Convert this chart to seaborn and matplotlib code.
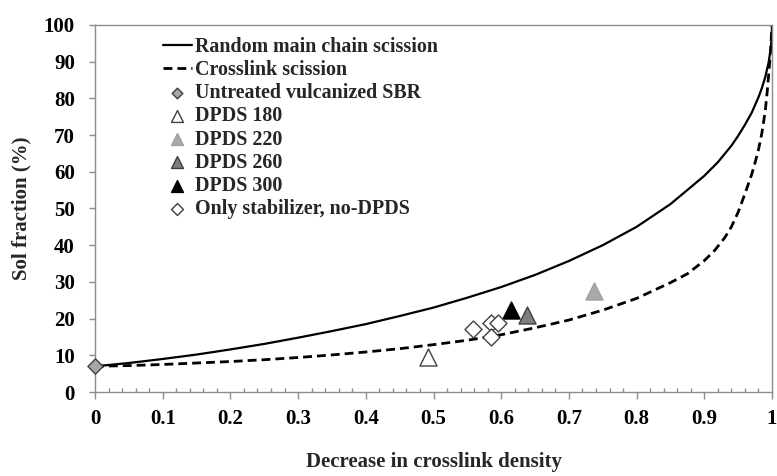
import matplotlib
matplotlib.use("Agg")
import matplotlib.pyplot as plt
import seaborn as sns
import pandas as pd
from matplotlib.ticker import MultipleLocator, FixedLocator

# ---- data ----
random_x = [0.0, 0.05, 0.1, 0.15, 0.2, 0.25, 0.3, 0.35, 0.4, 0.45, 0.5, 0.55, 0.6,
            0.65, 0.7, 0.75, 0.8, 0.85, 0.9, 0.92, 0.94, 0.95, 0.96, 0.97, 0.98, 0.985,
            0.99, 0.995, 0.998, 0.9995, 1.0]
random_y = [7.0, 7.9, 9.0, 10.2, 11.6, 13.1, 14.8, 16.6, 18.5, 20.7, 23.0, 25.7, 28.6,
            31.9, 35.7, 40.0, 45.0, 51.2, 58.9, 62.6, 67.1, 69.8, 72.8, 76.1, 80.3, 82.8,
            85.8, 89.8, 93.4, 96.5, 100.0]

crosslink_x = [0.0, 0.05, 0.1, 0.15, 0.2, 0.25, 0.3, 0.35, 0.4, 0.45, 0.5, 0.55, 0.6,
               0.65, 0.7, 0.75, 0.8, 0.85, 0.875, 0.9, 0.915, 0.93, 0.94, 0.95, 0.96,
               0.97, 0.975, 0.98, 0.985, 0.99, 0.993, 0.996, 0.998, 1.0]
crosslink_y = [7.0, 7.2, 7.5, 7.9, 8.3, 8.8, 9.4, 10.1, 10.9, 11.8, 12.9, 14.1, 15.6,
               17.5, 19.6, 22.3, 25.5, 29.8, 32.2, 35.8, 38.5, 42.0, 45.0, 49.0, 54.0,
               59.3, 62.5, 66.0, 70.5, 76.5, 82.0, 88.5, 93.5, 100.0]

untreated_x = [0.0]
untreated_y = [7.0]
dpds180_x = [0.492]
dpds180_y = [9.6]
dpds220_x = [0.737]
dpds220_y = [27.6]
dpds260_x = [0.638]
dpds260_y = [21.0]
dpds300_x = [0.614]
dpds300_y = [22.3]
stabilizer_x = [0.558, 0.585, 0.595, 0.585]
stabilizer_y = [17.3, 18.7, 18.9, 15.1]

x_ticks = [0, 0.1, 0.2, 0.3, 0.4, 0.5, 0.6, 0.7, 0.8, 0.9, 1]
x_tick_labels = ["0", "0.1", "0.2", "0.3", "0.4", "0.5", "0.6", "0.7", "0.8", "0.9", "1"]
y_ticks = [0, 10, 20, 30, 40, 50, 60, 70, 80, 90, 100]

# ---- style ----
sns.set_theme(style="white")
plt.rcParams["font.family"] = ["Liberation Serif", "DejaVu Serif"]
plt.rcParams["font.weight"] = "bold"

fig = plt.figure(figsize=(7.77, 4.76), dpi=100)
ax = fig.add_axes([95 / 777, 1 - 392 / 476, 677 / 777, 367 / 476])

curves = pd.concat([
    pd.DataFrame({"x": random_x, "y": random_y, "model": "Random main chain scission"}),
    pd.DataFrame({"x": crosslink_x, "y": crosslink_y, "model": "Crosslink scission"}),
])
sns.lineplot(data=curves[curves.model == "Random main chain scission"], x="x", y="y",
             color="black", lw=1.6, ax=ax, label="Random main chain scission",
             sort=False, estimator=None)
sns.lineplot(data=curves[curves.model == "Crosslink scission"], x="x", y="y",
             color="black", lw=2.0, ax=ax, label="Crosslink scission",
             sort=False, estimator=None)
ax.lines[1].set_dashes((3.2, 1.8))

edge = "#404040"
groups = [
    ("Untreated vulcanized SBR", untreated_x, untreated_y, "D", "#a6a6a6", edge, 60),
    ("DPDS 180", dpds180_x, dpds180_y, "^", "white", edge, 150),
    ("DPDS 220", dpds220_x, dpds220_y, "^", "#a9a9a9", "#a0a0a0", 150),
    ("DPDS 260", dpds260_x, dpds260_y, "^", "#7f7f7f", edge, 150),
    ("DPDS 300", dpds300_x, dpds300_y, "^", "black", "black", 150),
    ("Only stabilizer, no-DPDS", stabilizer_x, stabilizer_y, "D", "white", edge, 75),
]
for name, gx, gy, mk, fc, ec, s in groups:
    sns.scatterplot(x=gx, y=gy, marker=mk, color=fc, edgecolor=ec, linewidth=1.0,
                    s=s, ax=ax, label=name, zorder=5, clip_on=False)

ax.set_xlim(0, 1)
ax.set_ylim(0, 100)
ax.xaxis.set_major_locator(FixedLocator(x_ticks))
ax.set_xticklabels(x_tick_labels)
ax.xaxis.set_minor_locator(MultipleLocator(0.02))
ax.yaxis.set_major_locator(FixedLocator(y_ticks))

frame_col = "#8c8c8c"
for sp in ax.spines.values():
    sp.set_color(frame_col)
    sp.set_linewidth(1.0)
ax.tick_params(axis="x", which="major", direction="out", length=5, width=1,
               color=frame_col, pad=7, labelsize=15, labelcolor="black", bottom=True)
ax.tick_params(axis="x", which="minor", direction="in", length=3, width=1,
               color=frame_col, bottom=True)
ax.tick_params(axis="y", which="major", direction="out", length=4.5, width=1,
               color=frame_col, pad=10, labelsize=15, labelcolor="black", left=True)
for lab in ax.get_xticklabels() + ax.get_yticklabels():
    lab.set_fontweight("bold")

ax.set_xlabel("Decrease in crosslink density", fontsize=15, fontweight="bold", labelpad=17)
ax.set_ylabel("Sol fraction (%)", fontsize=15, fontweight="bold", labelpad=9)

leg = ax.legend(loc="upper left", bbox_to_anchor=(0.1, 0.968), frameon=False,
                handlelength=1.45, handletextpad=0.15, labelspacing=0.16,
                borderaxespad=0, borderpad=0, markerscale=0.7,
                prop={"weight": "bold", "size": 14.4})

fig.savefig("out.png", dpi=100)
